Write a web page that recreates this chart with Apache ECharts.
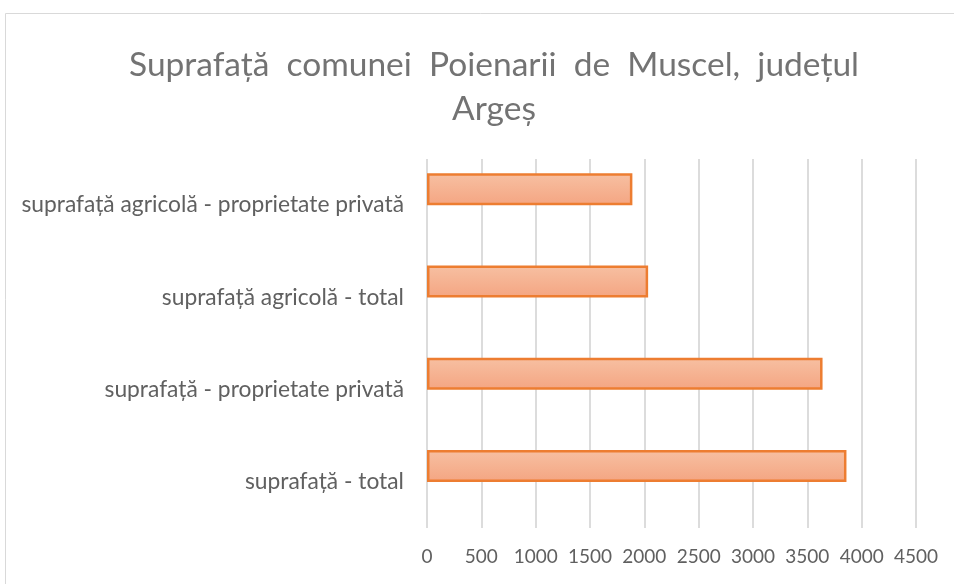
<!DOCTYPE html>
<html>
<head>
<meta charset="utf-8">
<script src="https://cdn.jsdelivr.net/npm/echarts@6/dist/echarts.min.js"></script>
<style>
  html, body { margin: 0; padding: 0; background: #fff; }
  #chart { width: 954px; height: 584px; }
</style>
</head>
<body>
<div id="chart"></div>
<script>
// categorii (de jos in sus, cum le pune axa)
const categories = [
    'suprafață - total',
    'suprafață - proprietate privată',
    'suprafață agricolă - total',
    'suprafață agricolă - proprietate privată'
];
const values = [3860, 3640, 2035, 1890];
// a doua serie e goala in original, dar ii ia loc barei
const emptySeries = [null, null, null, null];
const xTicks = [0, 500, 1000, 1500, 2000, 2500, 3000, 3500, 4000, 4500];

const chart = echarts.init(document.getElementById('chart'));

const options = {
    animation: false,
    title: {
        text: 'Suprafață  comunei  Poienarii  de  Muscel,  județul\nArgeș',
        left: 489,
        top: 38,
        textAlign: 'center',
        textStyle: {
            fontFamily: 'Lato',
            fontSize: 33.5,
            fontWeight: 'normal',
            color: '#737373',
            lineHeight: 44,
        },
    },
    graphic: [
        {
            type: 'rect',
            shape: { x: 5.5, y: 13.5, width: 1000, height: 1000 },
            style: { fill: 'none', stroke: '#d9d9d9', lineWidth: 1 },
            silent: true,
        },
    ],
    grid: {
        left: 427,
        right: 38,
        top: 159,
        bottom: 56,
    },
    xAxis: {
        type: 'value',
        min: 0,
        max: xTicks[xTicks.length - 1],
        interval: 500,
        axisLine: { show: false },
        axisTick: { show: false },
        axisLabel: {
            margin: 19,
            fontFamily: 'Lato',
            fontSize: 19,
            color: '#606060',
            formatter: (v) => String(v),
        },
        splitLine: {
            show: true,
            lineStyle: { color: '#dcdcdc', width: 2 },
        },
    },
    yAxis: {
        type: 'category',
        data: categories,
        axisLine: { show: false },
        axisTick: { show: false },
        axisLabel: {
            margin: 23,
            fontFamily: 'Lato',
            fontSize: 22.8,
            color: '#606060',
        },
    },
    series: [
        {
            type: 'bar',
            data: values,
            barWidth: 32,
            barGap: '0%',
            itemStyle: {
                color: new echarts.graphic.LinearGradient(0, 0, 0, 1, [
                    { offset: 0, color: '#f7c0a2' },
                    { offset: 1, color: '#f4a582' },
                ]),
                borderColor: '#ed7d31',
                borderWidth: 2.5,
            },
        },
        {
            type: 'bar',
            data: emptySeries,
            barWidth: 32,
            barGap: '0%',
        },
    ],
};

chart.setOption(options);
</script>
</body>
</html>
